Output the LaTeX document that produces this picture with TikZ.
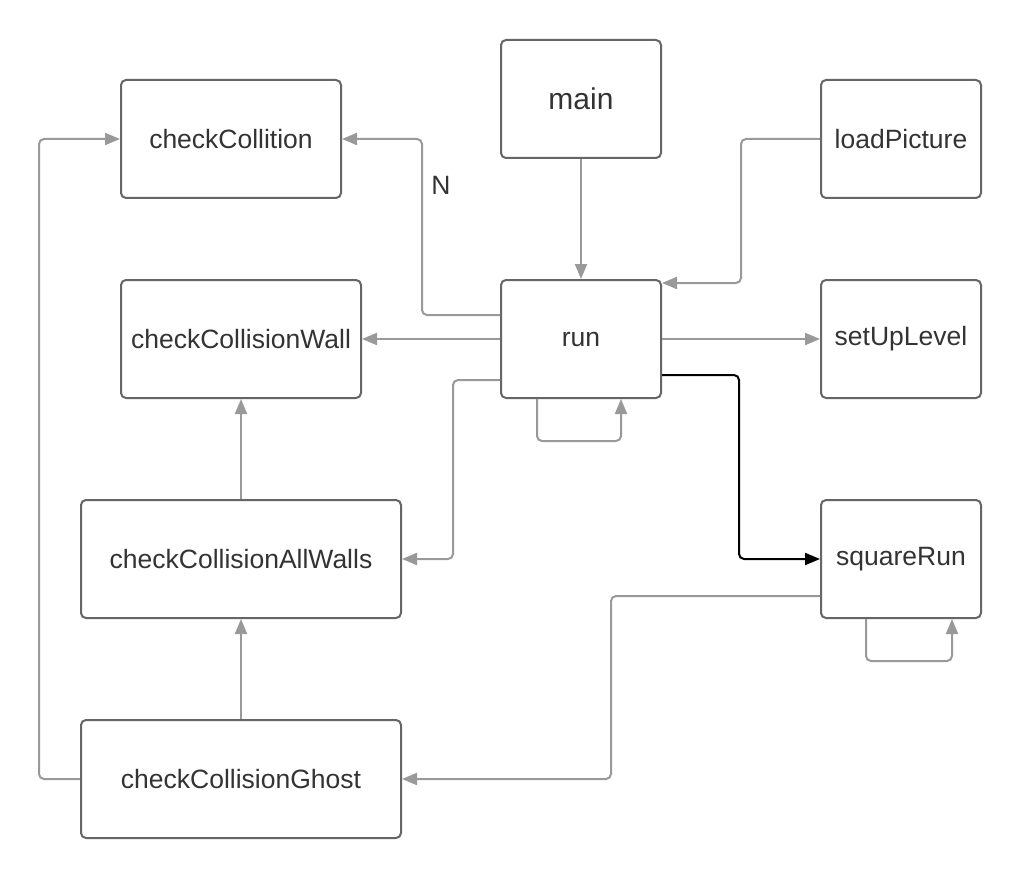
\documentclass[tikz,border=0pt]{standalone}
\usepackage{fontspec}
\setmainfont{Liberation Sans}
\usetikzlibrary{arrows.meta}
\definecolor{boxline}{RGB}{102,102,102}
\definecolor{edgegray}{RGB}{153,153,153}
\definecolor{txt}{RGB}{51,51,51}
\tikzset{
  fn/.style={draw=boxline, line width=2pt, rounded corners=5pt, fill=white,
    minimum height=118pt, inner sep=0pt, text=txt, font=\fontsize{26.5}{30}\selectfont},
  narrow/.style={fn, minimum width=160pt},
  mid/.style={fn, minimum width=220pt},
  midwide/.style={fn, minimum width=240pt},
  wide/.style={fn, minimum width=320pt},
  edge/.style={draw=edgegray, line width=2pt, rounded corners=5pt,
    -{Triangle[length=15pt,width=12pt]}},
  edgeblack/.style={edge, draw=black},
}
\begin{document}
\begin{tikzpicture}[x=1pt,y=-1pt]
\useasboundingbox[fill=white] (0,0) rectangle (1021,880);

\node[mid]     (cc)    at (231,139) {checkCollition};
\node[narrow, font=\fontsize{30}{34}\selectfont] (main) at (581,99) {main};
\node[narrow]  (load)  at (901,139) {loadPicture};
\node[midwide] (cw)    at (241,339) {checkCollisionWall};
\node[narrow]  (run)   at (581,339) {run};
\node[narrow]  (setup) at (901,339) {setUpLevel};
\node[wide]    (aw)    at (241,559) {checkCollisionAllWalls};
\node[narrow]  (sq)    at (901,559) {squareRun};
\node[wide]    (gh)    at (241,779) {checkCollisionGhost};

% straight calls
\draw[edge] (main.south) -- (run.north);
\draw[edge] (run.west) -- (cw.east);
\draw[edge] (run.east) -- (setup.west);
\draw[edge] (aw.north) -- (cw.south);
\draw[edge] (gh.north) -- (aw.south);

% routed calls
\draw[edge] ([yshift=24pt]run.west) -| ([xshift=80pt]cc.east) -- (cc.east);
\node[text=txt, font=\fontsize{26.5}{30}\selectfont, inner sep=0pt] (lblN) at (441,185) {N};
\draw[edge] (load.west) -| ([xshift=79pt,yshift=56pt]run.east) -- ([yshift=56pt]run.east);
\draw[edge] ([xshift=-44pt]run.south) -- ++(0,42) -| ([xshift=40pt]run.south);
\draw[edge] ([yshift=-41pt]run.west) -| ([xshift=51pt]aw.east) -- (aw.east);
\draw[edgeblack] ([yshift=-36pt]run.east) -| ([xshift=-81pt]sq.west) -- (sq.west);
\draw[edge] ([xshift=-35pt]sq.south) -- ++(0,42) -| ([xshift=51pt]sq.south);
\draw[edge] ([yshift=-37pt]sq.west) -| ([xshift=209pt]gh.east) -- (gh.east);
\draw[edge] (gh.west) -| ([xshift=-81pt]cc.west) -- (cc.west);
\end{tikzpicture}
\end{document}
